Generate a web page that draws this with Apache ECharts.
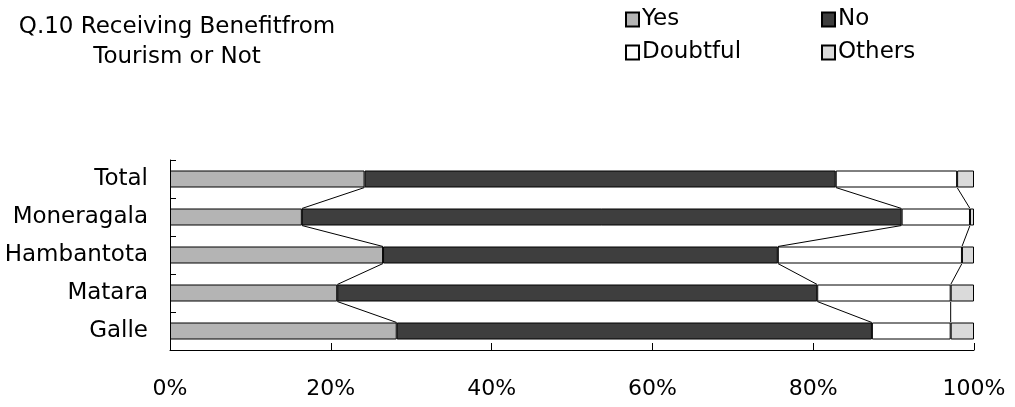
<!DOCTYPE html>
<html>
<head>
<meta charset="utf-8">
<script src="https://cdn.jsdelivr.net/npm/echarts@6/dist/echarts.min.js"></script>
<style>
html,body{margin:0;padding:0;background:#fff;}
#chart{width:1015px;height:407px;}
</style>
</head>
<body>
<div id="chart"></div>
<script>
const categories = ['Total', 'Moneragala', 'Hambantota', 'Matara', 'Galle'];
const yesValues = [24.2, 16.4, 26.5, 20.8, 28.2];
const noValues = [58.6, 74.6, 49.1, 59.7, 59.1];
const doubtfulValues = [15.1, 8.5, 22.9, 16.6, 9.8];
const othersValues = [2.1, 0.5, 1.5, 2.9, 2.9];
const xTickValues = [0, 20, 40, 60, 80, 100];

const FONT = 'DejaVu Sans';
const BAR_W = 17;

const stacks = [yesValues, noValues, doubtfulValues];
const connectors = [];
for (let i = 0; i < categories.length - 1; i++) {
  let c1 = 0, c2 = 0;
  for (let s = 0; s < stacks.length; s++) {
    c1 += stacks[s][i];
    c2 += stacks[s][i + 1];
    connectors.push([c1, i, c2, i + 1]);
  }
}

const chart = echarts.init(document.getElementById('chart'));
const legendBase = {
  itemWidth: 13, itemHeight: 14, icon: 'rect',
  textStyle: { fontFamily: FONT, fontSize: 23, color: '#000', padding: [0, 0, 0, -2] },
  selectedMode: false
};
function barSeries(name, data, color) {
  return {
    name, type: 'bar', stack: 'all', data, barWidth: BAR_W,
    itemStyle: { color, borderColor: '#000', borderWidth: 1 },
    emphasis: { disabled: true }
  };
}
chart.setOption({
  animation: false,
  backgroundColor: '#fff',
  title: {
    text: 'Q.10 Receiving Benefitfrom\nTourism or Not',
    left: 172, top: 7, textAlign: 'center',
    textStyle: { fontFamily: FONT, fontSize: 23, fontWeight: 'normal', color: '#000', lineHeight: 30, align: 'center' }
  },
  legend: [
    Object.assign({}, legendBase, { data: ['Yes'], left: 620, top: 3 }),
    Object.assign({}, legendBase, { data: ['No'], left: 816, top: 3 }),
    Object.assign({}, legendBase, { data: ['Doubtful'], left: 620, top: 36 }),
    Object.assign({}, legendBase, { data: ['Others'], left: 816, top: 36 })
  ],
  grid: { left: 170, right: 41, top: 160, bottom: 57, containLabel: false },
  xAxis: {
    type: 'value', min: 0, max: 100, interval: 20,
    axisLine: { show: true, lineStyle: { color: '#000', width: 1 } },
    axisTick: { show: true, inside: true, length: 7, lineStyle: { color: '#000' } },
    splitLine: { show: false },
    axisLabel: {
      margin: 28, fontFamily: FONT, fontSize: 22, color: '#000',
      formatter: v => xTickValues.includes(v) ? v + '%' : ''
    }
  },
  yAxis: {
    type: 'category', inverse: true, data: categories,
    axisLine: { show: true, lineStyle: { color: '#000', width: 1 } },
    axisTick: { show: true, inside: true, length: 6, lineStyle: { color: '#000' } },
    axisLabel: { margin: 22, fontFamily: FONT, fontSize: 23, color: '#000' }
  },
  series: [
    barSeries('Yes', yesValues, '#b4b4b4'),
    barSeries('No', noValues, '#3e3e3e'),
    barSeries('Doubtful', doubtfulValues, '#ffffff'),
    barSeries('Others', othersValues, '#dadada'),
    {
      type: 'custom', name: 'connectors', data: connectors,
      encode: { x: [0, 2], y: [1, 3] },
      silent: true, z: 5,
      renderItem: function (params, api) {
        const p1 = api.coord([api.value(0), api.value(1)]);
        const p2 = api.coord([api.value(2), api.value(3)]);
        const h = BAR_W / 2;
        return {
          type: 'line',
          shape: { x1: p1[0], y1: p1[1] + h, x2: p2[0], y2: p2[1] - h },
          style: { stroke: '#000', lineWidth: 1 }
        };
      }
    }
  ]
});
</script>
</body>
</html>
